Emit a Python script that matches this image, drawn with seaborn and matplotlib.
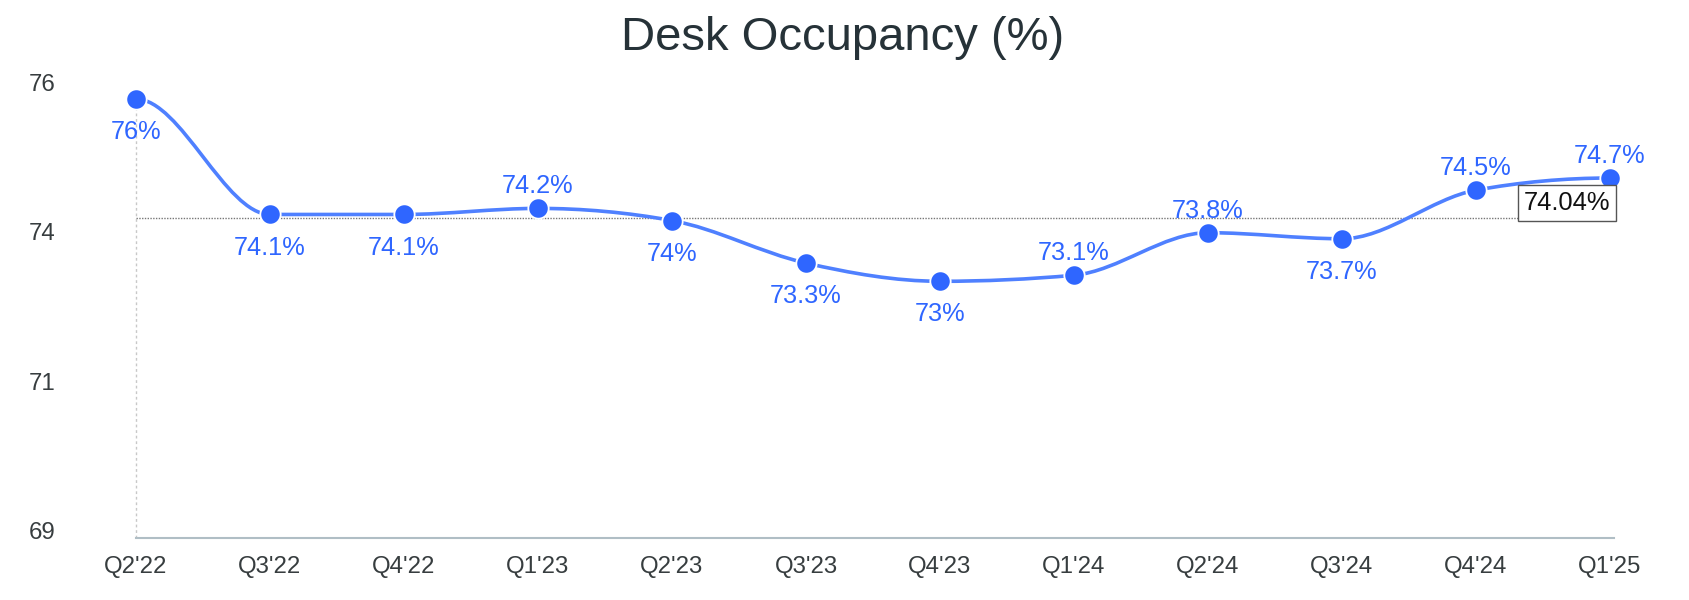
import numpy as np
import pandas as pd
import seaborn as sns
import matplotlib.pyplot as plt
from matplotlib.path import Path
from matplotlib.patches import PathPatch
from matplotlib.transforms import ScaledTranslation

quarters = ["Q2'22", "Q3'22", "Q4'22", "Q1'23", "Q2'23", "Q3'23",
            "Q4'23", "Q1'24", "Q2'24", "Q3'24", "Q4'24", "Q1'25"]
occupancy = [76.0, 74.1, 74.1, 74.2, 74.0, 73.3, 73.0, 73.1, 73.8, 73.7, 74.5, 74.7]
label_side = ['below', 'below', 'below', 'above', 'below', 'below',
              'below', 'above', 'above', 'below', 'above', 'above']

df = pd.DataFrame({'quarter': quarters, 'value': occupancy})
df['pos'] = range(len(df))

LINE = '#4f80ff'
DOT = '#2f66ff'
TXT = '#373d3f'
AXIS = '#b0bec5'

sns.set_theme(style='white')
plt.rcParams['font.family'] = ['Liberation Sans', 'DejaVu Sans']

fig = plt.figure(figsize=(16.9, 6), dpi=100)
ax = fig.add_axes([136 / 1690, 62.3 / 600, 1478 / 1690, 448.4 / 600])

# smooth curve: cubic bezier segments with monotone tangents
x = df['pos'].to_numpy(dtype=float)
y = df['value'].to_numpy(dtype=float)
s = np.diff(y)
t = np.zeros_like(y)
for i in range(1, len(y) - 1):
    a, b = s[i - 1], s[i]
    if a * b > 0:
        t[i] = np.sign(a) * 2 * min(abs(a), abs(b), abs(a + b) / 4)
verts = [(x[0], y[0])]
codes = [Path.MOVETO]
for i in range(len(y) - 1):
    verts += [(x[i] + 1 / 3, y[i] + t[i] / 3),
              (x[i + 1] - 1 / 3, y[i + 1] - t[i + 1] / 3),
              (x[i + 1], y[i + 1])]
    codes += [Path.CURVE4] * 3
ax.add_patch(PathPatch(Path(verts, codes), facecolor='none', edgecolor=LINE,
                       lw=2.6, capstyle='round', zorder=3, clip_on=False))

ylo, yhi = 68.78, 76.16
mean = df['value'].mean()

# mean reference line and drop line at the first point
ax.axhline(mean, color='#777777', lw=1, ls=(0, (1, 1)), zorder=2)
ax.vlines(0, ylo, df['value'].iloc[0], color='#c8c8c8', lw=1,
          ls=(0, (2, 2)), zorder=2, clip_on=False)

sns.scatterplot(data=df, x='pos', y='value', ax=ax, s=215, color=DOT,
                edgecolor='white', linewidth=1.3, zorder=4, legend=False,
                clip_on=False)

for _, row in df.iterrows():
    off = 15.8 if label_side[row['pos']] == 'above' else -23.8
    ax.annotate(f"{row['value']:g}%", (row['pos'], row['value']),
                xytext=(0, off), textcoords='offset points',
                ha='center', va='center', fontsize=18.3, color=DOT, zorder=5)

ax.annotate(f'{mean:.2f}%', (len(df) - 1, mean), xytext=(0, 10.8),
            textcoords='offset points', ha='right', va='center',
            fontsize=18.4, color='#111111', zorder=6, annotation_clip=False,
            bbox=dict(boxstyle='square,pad=0.22', fc='white', ec='#555555', lw=1))

ax.set_xlim(0, 11.03)
ax.set_ylim(ylo, yhi)
ax.set_xticks(df['pos'], quarters)
yt = np.linspace(ylo, yhi, 4)
ax.set_yticks(yt, [f'{v:.0f}' for v in yt])
ax.set_xlabel('')
ax.set_ylabel('')

for side in ['top', 'right', 'left']:
    ax.spines[side].set_visible(False)
ax.spines['bottom'].set_color(AXIS)
ax.spines['bottom'].set_linewidth(1.5)
ax.tick_params(axis='x', length=4.3, width=1.5, color=AXIS, pad=9,
               labelsize=17.3, labelcolor=TXT)
ax.tick_params(axis='y', length=0, pad=58, labelsize=17.3, labelcolor=TXT)
for lab in ax.get_yticklabels():
    lab.set_transform(lab.get_transform() + ScaledTranslation(0, 0.07, fig.dpi_scale_trans))
ax.grid(False)

fig.text(0.4985, 1 - 37.5 / 600, 'Desk Occupancy (%)', ha='center', va='center',
         fontsize=34, color='#263238')

fig.savefig('out.png', dpi=100)
